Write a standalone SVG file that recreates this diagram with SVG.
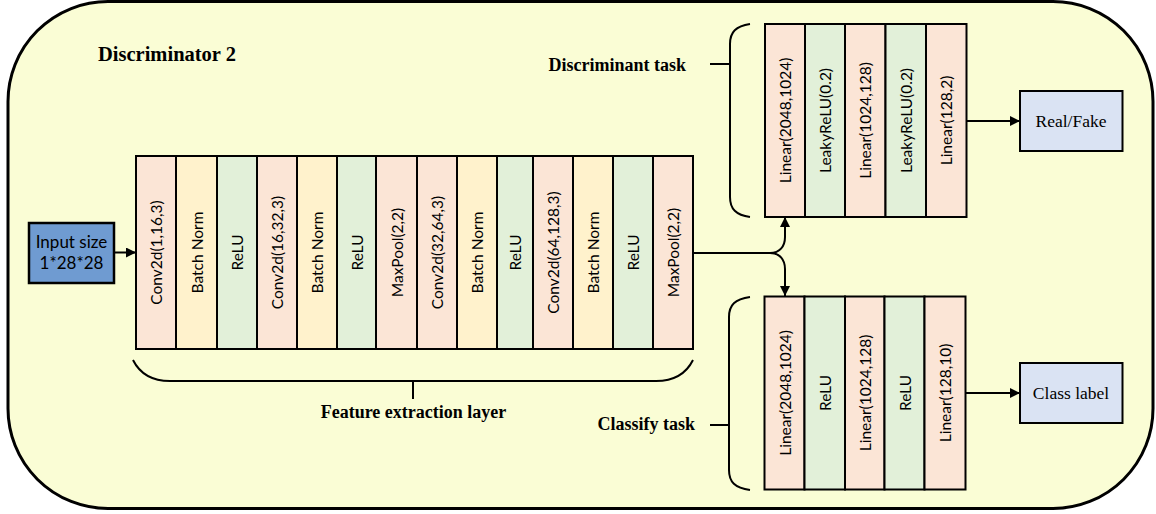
<svg xmlns="http://www.w3.org/2000/svg" width="1156" height="514" viewBox="0 0 1156 514">
<defs>
<marker id="ah" viewBox="0 0 10 10" refX="10" refY="5" markerWidth="10" markerHeight="10" markerUnits="userSpaceOnUse" orient="auto">
<path d="M0,0 L10,5 L0,10 Z" fill="#000"/>
</marker>
<style>
.bg{fill:#FAFDD5;stroke:#000;stroke-width:3}
.conv{fill:#FBE5D6;stroke:#000;stroke-width:2}
.bn{fill:#FFF2CC;stroke:#000;stroke-width:2}
.relu{fill:#E2F0D9;stroke:#000;stroke-width:2}
.out{fill:#DAE3F3;stroke:#000;stroke-width:2}
.inp{fill:#6F9BD1;stroke:#000;stroke-width:2.5}
.vt{font-family:Lato,"Liberation Sans",sans-serif;font-size:15.5px;fill:#000;text-anchor:middle;dominant-baseline:central}
.it{font-family:Lato,"Liberation Sans",sans-serif;font-size:17px;fill:#000;text-anchor:middle}
.lb{font-family:"Liberation Serif",serif;font-weight:bold;font-size:18px;fill:#000}
.ot{font-family:"Liberation Serif",serif;font-size:17.5px;fill:#000;text-anchor:middle;dominant-baseline:central}
.ln{fill:none;stroke:#000;stroke-width:2}
</style>
</defs>
<rect class="bg" x="8" y="1.5" width="1145" height="507" rx="100" ry="100"/>
<text class="lb" x="98" y="61" style="font-size:20.5px">Discriminator 2</text>

<g id="input">
<rect class="inp" x="29" y="223" width="85" height="60"/>
<text class="it" x="71.5" y="248">Input size</text>
<text class="it" x="71.5" y="269">1*28*28</text>
</g>

<g id="feature-extraction">
<rect class="conv" x="136" y="156" width="40" height="193"/>
<text class="vt" transform="translate(156,252.5) rotate(-90)">Conv2d(1,16,3)</text>
<rect class="bn" x="176" y="156" width="41" height="193"/>
<text class="vt" transform="translate(196.5,252.5) rotate(-90)">Batch Norm</text>
<rect class="relu" x="217" y="156" width="40" height="193"/>
<text class="vt" transform="translate(237,252.5) rotate(-90)">ReLU</text>
<rect class="conv" x="257" y="156" width="40" height="193"/>
<text class="vt" transform="translate(277,252.5) rotate(-90)">Conv2d(16,32,3)</text>
<rect class="bn" x="297" y="156" width="40" height="193"/>
<text class="vt" transform="translate(317,252.5) rotate(-90)">Batch Norm</text>
<rect class="relu" x="337" y="156" width="39" height="193"/>
<text class="vt" transform="translate(356.5,252.5) rotate(-90)">ReLU</text>
<rect class="conv" x="376" y="156" width="41" height="193"/>
<text class="vt" transform="translate(396.5,252.5) rotate(-90)">MaxPool(2,2)</text>
<rect class="conv" x="417" y="156" width="40" height="193"/>
<text class="vt" transform="translate(437,252.5) rotate(-90)">Conv2d(32,64,3)</text>
<rect class="bn" x="457" y="156" width="40" height="193"/>
<text class="vt" transform="translate(477,252.5) rotate(-90)">Batch Norm</text>
<rect class="relu" x="497" y="156" width="36" height="193"/>
<text class="vt" transform="translate(515,252.5) rotate(-90)">ReLU</text>
<rect class="conv" x="533" y="156" width="40" height="193"/>
<text class="vt" transform="translate(553,252.5) rotate(-90)">Conv2d(64,128,3)</text>
<rect class="bn" x="573" y="156" width="40" height="193"/>
<text class="vt" transform="translate(593,252.5) rotate(-90)">Batch Norm</text>
<rect class="relu" x="613" y="156" width="40" height="193"/>
<text class="vt" transform="translate(633,252.5) rotate(-90)">ReLU</text>
<rect class="conv" x="653" y="156" width="40" height="193"/>
<text class="vt" transform="translate(673,252.5) rotate(-90)">MaxPool(2,2)</text>
<path class="ln" d="M133,360 C140,374 152,381 170,381 L656,381 C674,381 686,374 693,360"/>
<path class="ln" d="M413,381 V399"/>
<text class="lb" x="413.5" y="418" text-anchor="middle">Feature extraction layer</text>
</g>

<g id="discriminant-task">
<rect class="conv" x="765" y="24" width="40" height="193"/>
<text class="vt" transform="translate(785,120.5) rotate(-90)">Linear(2048,1024)</text>
<rect class="relu" x="805" y="24" width="40" height="193"/>
<text class="vt" transform="translate(825,120.5) rotate(-90)">LeakyReLU(0.2)</text>
<rect class="conv" x="845" y="24" width="40.5" height="193"/>
<text class="vt" transform="translate(865.2,120.5) rotate(-90)">Linear(1024,128)</text>
<rect class="relu" x="885.5" y="24" width="40.5" height="193"/>
<text class="vt" transform="translate(905.7,120.5) rotate(-90)">LeakyReLU(0.2)</text>
<rect class="conv" x="926" y="24" width="40.5" height="193"/>
<text class="vt" transform="translate(946.2,120.5) rotate(-90)">Linear(128,2)</text>
<path class="ln" d="M750,24 C736,26 730,32 730,44 L730,197 C730,209 736,215 750,217"/>
<path class="ln" d="M710,64 H730"/>
<text class="lb" x="686" y="71" text-anchor="end">Discriminant task</text>
</g>

<g id="real-fake">
<rect class="out" x="1020" y="91" width="102.5" height="60"/>
<text class="ot" x="1071" y="121">Real/Fake</text>
</g>

<g id="classify-task">
<rect class="conv" x="764.5" y="296.5" width="40" height="193"/>
<text class="vt" transform="translate(784.5,393) rotate(-90)">Linear(2048,1024)</text>
<rect class="relu" x="804.5" y="296.5" width="40.5" height="193"/>
<text class="vt" transform="translate(824.7,393) rotate(-90)">ReLU</text>
<rect class="conv" x="845" y="296.5" width="39.5" height="193"/>
<text class="vt" transform="translate(864.7,393) rotate(-90)">Linear(1024,128)</text>
<rect class="relu" x="884.5" y="296.5" width="40" height="193"/>
<text class="vt" transform="translate(904.5,393) rotate(-90)">ReLU</text>
<rect class="conv" x="924.5" y="296.5" width="41" height="193"/>
<text class="vt" transform="translate(945,393) rotate(-90)">Linear(128,10)</text>
<path class="ln" d="M750,297 C735,299 729,305 729,317 L729,470 C729,482 735,488 750,490"/>
<path class="ln" d="M710,425 H729"/>
<text class="lb" x="695" y="430" text-anchor="end">Classify task</text>
</g>

<g id="class-label">
<rect class="out" x="1020" y="363" width="102.5" height="60"/>
<text class="ot" x="1071" y="393">Class label</text>
</g>

<g id="connectors">
<path class="ln" d="M114,252.5 H136" marker-end="url(#ah)"/>
<path class="ln" d="M693,253 H770 C780,253 785,246 785,237 V217" marker-end="url(#ah)"/>
<path class="ln" d="M770,253 C780,253 785,260 785,269 V296" marker-end="url(#ah)"/>
<path class="ln" d="M966.5,121 H1020" marker-end="url(#ah)"/>
<path class="ln" d="M965.5,393 H1020" marker-end="url(#ah)"/>
</g>
</svg>
